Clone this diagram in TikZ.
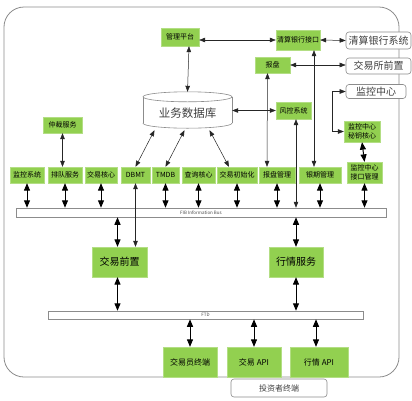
\documentclass[tikz,border=0pt]{standalone}
\usepackage{fontspec}
\setmainfont{Noto Sans CJK SC}
\usetikzlibrary{arrows.meta,calc}
\definecolor{gbox}{HTML}{92D050}
\definecolor{gline}{HTML}{8C8C8C}
\begin{document}
\begin{tikzpicture}[x=1pt,y=-1pt,
  gb/.style={fill=gbox,draw=gbox!70!white,line width=0.3pt,inner sep=0pt,align=center,text=black,font=\fontsize{7}{8.5}\selectfont},
  gbig/.style={gb,font=\fontsize{10}{12}\selectfont},
  gmid/.style={gb,font=\fontsize{8}{10}\selectfont},
  wb/.style={fill=white,draw=gline,rounded corners=3pt,line width=0.6pt,inner sep=0pt,text=black!75,font=\fontsize{10}{12}\selectfont},
  barst/.style={fill=white,draw=gline,line width=0.5pt,inner sep=0pt,text=black!70,font=\fontsize{4.5}{5}\selectfont},
  arr/.style={{Triangle[width=4.5pt,length=6pt]}-{Triangle[width=4.5pt,length=6pt]},line width=0.5pt,black!85},
  sarr/.style={{Triangle[width=6pt,length=7.5pt]}-{Triangle[width=6pt,length=7.5pt]},line width=1pt,black}]
\useasboundingbox (0,0) rectangle (412,400);
\fill[white] (0,0) rectangle (412,400);
% outer frame
\draw[gline,line width=0.8pt,rounded corners=20pt] (4,7) rectangle (399,377);

% top area
\node[gb,minimum width=38,minimum height=18] (mgmt) at (180,37) {管理平台};
\node[gb,minimum width=44,minimum height=20] (qsjk) at (298,40) {清算银行接口};
\node[wb,minimum width=65,minimum height=17] (qsxt) at (378.5,40.5) {清算银行系统};
\node[gb,minimum width=35,minimum height=16] (bp) at (272.5,65) {报盘};
\node[wb,minimum width=65,minimum height=16] (jysqz) at (378.5,66) {交易所前置};
\node[wb,minimum width=60,minimum height=14] (jkzx) at (376,91.5) {监控中心};
\node[gb,minimum width=35,minimum height=17] (fk) at (293.5,110.5) {风控系统};
\node[gb,minimum width=39,minimum height=16] (zc) at (62.5,125) {仲裁服务};
\node[gb,minimum width=36,minimum height=21] (mykx) at (362,131.5) {监控中心\\秘钥核心};

% database cylinder
\node[minimum width=89,minimum height=36,inner sep=0pt] (db) at (187.5,110) {};
\draw[gline,line width=0.6pt,fill=white] ($(db.south)+(0,-5)$) ellipse[x radius=44.5,y radius=5];
\fill[white] ($(db.north west)+(0,5)$) rectangle ($(db.south east)+(0,-5)$);
\draw[gline,line width=0.6pt] ($(db.north west)+(0,5)$) -- ($(db.south west)+(0,-5)$);
\draw[gline,line width=0.6pt] ($(db.north east)+(0,5)$) -- ($(db.south east)+(0,-5)$);
\draw[gline,line width=0.6pt,fill=white] ($(db.north)+(0,5)$) ellipse[x radius=44.5,y radius=5];
\node[text=black!75,font=\fontsize{11.5}{13}\selectfont] (dbt) at ($(db.center)+(0,3)$) {业务数据库};

% row of services
\node[gb,minimum width=34,minimum height=16] (jkxt) at (27,175) {监控系统};
\node[gb,minimum width=34,minimum height=16] (pd) at (65,175) {排队服务};
\node[gb,minimum width=32,minimum height=16] (jyhx) at (101,175) {交易核心};
\node[gb,minimum width=29,minimum height=16] (dbmt) at (135.5,175) {DBMT};
\node[gb,minimum width=27,minimum height=16] (tmdb) at (165.5,175) {TMDB};
\node[gb,minimum width=33,minimum height=16] (cx) at (198.5,175) {查询核心};
\node[gb,minimum width=40,minimum height=16] (init) at (237,175) {交易初始化};
\node[gb,minimum width=36,minimum height=16] (bpgl) at (277,175) {报盘管理};
\node[gb,minimum width=42,minimum height=16] (yqgl) at (320,175) {银期管理};
\node[gb,minimum width=35,minimum height=21] (jkgl) at (364.5,172.5) {监控中心\\接口管理};

% buses
\node[barst,minimum width=370,minimum height=9] (bus) at (201,212.5) {FIB Information Bus};
\node[barst,minimum width=315,minimum height=8] (ftd) at (205.5,315) {FTD};

% middle
\node[gbig,minimum width=55,minimum height=30] (jyqz) at (119.5,262) {交易前置};
\node[gbig,minimum width=54,minimum height=30] (hq) at (296,262) {行情服务};

% bottom
\node[gmid,minimum width=54,minimum height=30] (jyyzd) at (190,362) {交易员终端};
\node[gmid,minimum width=54,minimum height=30] (jyapi) at (254,362) {交易 API};
\node[gmid,minimum width=58,minimum height=30] (hqapi) at (319,362) {行情 API};
\node[wb,minimum width=96,minimum height=18,font=\fontsize{8}{10}\selectfont] (tzz) at (279,388) {投资者终端};

% connectors, top
\draw[arr] ($(mgmt.south)+(9,0)$) -- (db.north);
\draw[arr] (mgmt.east |- qsjk.west) -- (qsjk.west);
\draw[arr] (qsjk.east) -- (qsxt.west);
\draw[arr] (bp.east) -- (jysqz.west |- bp.east);
\draw[arr] (jkzx.west) -- ++(-13,0) |- (mykx.west);
\draw[sarr] (mykx.south) -- (jkgl.north);
\draw[arr] ($(bp.south)+(-5,0)$) -- ($(bpgl.north)+(-10,0)$);
\draw[arr] ($(qsjk.south)+(16,0)$) -- ($(yqgl.north)+(-6,0)$);
\draw[arr] (db.east |- fk.west) -- (fk.west);
\draw[arr] (fk.south -| hq.north) -- (bus.north -| hq.north);
\draw[arr] (zc.south) -- (zc.south |- pd.north);
\draw[arr] ($(db.south)+(-33,2)$) -- (dbmt.north);
\draw[arr] ($(db.south)+(-3,2)$) -- (tmdb.north);
\draw[arr] ($(db.south)+(22,2)$) -- ($(init.north)+(-8,0)$);

% row to bus
\foreach \b in {jkxt,pd,jyhx,tmdb,cx,init,bpgl,yqgl,jkgl}
  \draw[sarr] (\b.south) -- (\b.south |- bus.north);
\draw[arr] (dbmt.south) -- (dbmt.south |- jyqz.north);

% bus to middle
\draw[sarr] ($(bus.south -| jyqz.north)+(-2,0)$) -- ($(jyqz.north)+(-2,0)$);
\draw[sarr] (bus.south -| hq.north) -- (hq.north);
\draw[sarr] ($(jyqz.south)+(-2,0)$) -- ($(jyqz.south |- ftd.north)+(-2,0)$);
\draw[sarr] (hq.south) -- (hq.south |- ftd.north);

% ftd to bottom
\draw[sarr] (ftd.south -| jyyzd.north) -- (jyyzd.north);
\draw[sarr] (ftd.south -| jyapi.north) -- (jyapi.north);
\draw[sarr] ($(ftd.south -| hqapi.north)+(-3,0)$) -- ($(hqapi.north)+(-3,0)$);
\end{tikzpicture}
\end{document}
